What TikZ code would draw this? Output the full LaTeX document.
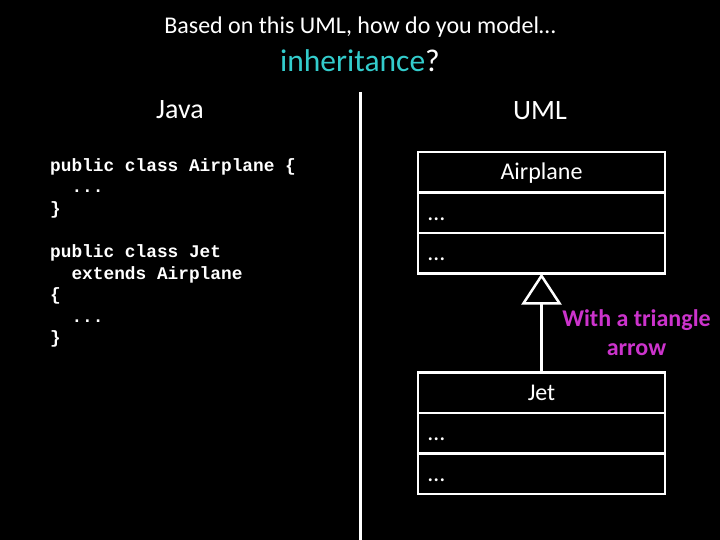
\documentclass[tikz,border=0pt]{standalone}
\usepackage{fontspec}
\setmainfont{Carlito}
\setmonofont{Liberation Mono}
\usetikzlibrary{arrows.meta,positioning}
\definecolor{hilite}{RGB}{51,204,204}
\definecolor{remark}{RGB}{204,51,204}
\tikzset{
  compart/.style={draw=white,line width=2.5pt,outer sep=0pt,inner xsep=10pt,inner ysep=0pt,
    text width=227pt,minimum height=40.5pt,text height=17pt,text depth=2pt,
    align=left,text=white,font=\fontsize{24}{28}\selectfont},
  clsname/.style={compart,align=center},
  heading/.style={text=white,font=\fontsize{28}{32}\selectfont},
}
\begin{document}
\begin{tikzpicture}[x=1pt,y=-1pt]
\useasboundingbox[fill=black] (0,0) rectangle (720,540);

\node[text=white,font=\fontsize{24}{28}\selectfont] (question) at (360,27) {Based on this UML, how do you model…};
\node[font=\fontsize{31.5}{34}\selectfont] (topic) at (360,61) {\textcolor{hilite}{inheritance}\textcolor{white}{?}};

\node[heading] (java) at (180,110) {Java};
\node[heading] (uml) at (540,111) {UML};
\draw[white,line width=3pt] (360,92) -- (360,540);

% java source
\node[anchor=north west,align=left,text=white,inner sep=0pt,
      font=\ttfamily\bfseries\fontsize{17.8}{21.6}\selectfont] (code) at (50,158) {%
public class Airplane \{\\
\phantom{xx}...\\
\}\\[21.6pt]
public class Jet\\
\phantom{xx}extends Airplane\\
\{\\
\phantom{xx}...\\
\}};

% uml classes
\node[clsname] (plane) at (541.5,172.25) {Airplane};
\node[compart,below=0pt of plane] (planeattr) {…};
\node[compart,below=0pt of planeattr] (planeops) {…};

\node[clsname] (jet) at (541.5,392.75) {Jet};
\node[compart,below=0pt of jet] (jetattr) {…};
\node[compart,below=0pt of jetattr] (jetops) {…};

\draw[white,line width=2.5pt,-{Triangle[open,length=31pt,width=40pt,line width=2.5pt]}]
  (jet.north) -- (planeops.south);

\node[text=remark,align=center,font=\bfseries\fontsize{24}{29}\selectfont] (hint) at (636.5,333)
  {With a triangle\\arrow};
\end{tikzpicture}
\end{document}
